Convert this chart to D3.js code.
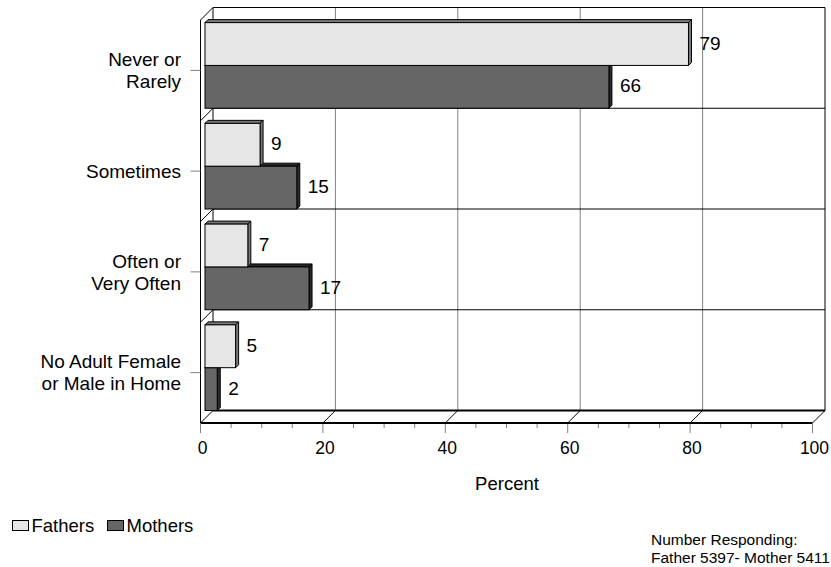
<!DOCTYPE html>
<html><head><meta charset="utf-8">
<script src="https://cdn.jsdelivr.net/npm/d3@7"></script>
<style>html,body{margin:0;padding:0;background:#fff}svg{display:block;font-family:"Liberation Sans",Arial,sans-serif}</style>
</head><body>
<svg id="c" width="831" height="567"></svg>
<script>
const categories = ["Never or\nRarely", "Sometimes", "Often or\nVery Often", "No Adult Female\nor Male in Home"];
const fathers = [79, 9, 7, 5];
const mothers = [66, 15, 17, 2];
const xTickLabels = [0, 20, 40, 60, 80, 100];
const minorTicks = d3.range(0, 101, 5);
const seriesNames = ["Fathers", "Mothers"];
const seriesFill = ["#e6e6e6", "#666666"];
const seriesSide = ["#7a7a7a", "#2a2a2a"];

const svg = d3.select("#c");
svg.append("rect").attr("width", 831).attr("height", 567).attr("fill", "#fff");

const dx = 12.5, dy = 12.5;           // depth offset of the back wall
const x = d3.scaleLinear().domain([0, 100]).range([200.5, 812.5]);
const y = d3.scaleBand().domain(categories).range([20, 423]);
const bw = y.bandwidth();
const yTopF = 20, yBotF = 423;

const g = svg.append("g");
g.selectAll(".vg").data(xTickLabels.slice(1, -1)).join("line")
  .attr("x1", d => x(d) + dx).attr("x2", d => x(d) + dx)
  .attr("y1", yTopF - dy).attr("y2", yBotF - dy)
  .attr("stroke", "#808080").attr("stroke-width", 1);
g.selectAll(".hg").data(categories.slice(1)).join("line")
  .attr("x1", x(0) + dx).attr("x2", x(100) + dx)
  .attr("y1", d => y(d) - dy).attr("y2", d => y(d) - dy)
  .attr("stroke", "#000");
g.selectAll(".ld").data(categories.slice(1)).join("line")
  .attr("x1", x(0)).attr("y1", d => y(d))
  .attr("x2", x(0) + dx).attr("y2", d => y(d) - dy)
  .attr("stroke", "#000");
g.append("path").attr("fill", "none").attr("stroke", "#000")
  .attr("d", `M${x(0)+dx},${yBotF-dy}V${yTopF-dy}H${x(100)+dx}V${yBotF-dy}`);
g.append("path").attr("fill", "none").attr("stroke", "#000")
  .attr("d", `M${x(0)},${yBotF}V${yTopF}L${x(0)+dx},${yTopF-dy}`);
g.selectAll(".fd").data(xTickLabels).join("line")
  .attr("x1", d => x(d)).attr("y1", yBotF)
  .attr("x2", d => x(d) + dx).attr("y2", yBotF - dy)
  .attr("stroke", "#000");
g.append("line").attr("x1", x(0) + dx).attr("x2", x(100) + dx).attr("y1", yBotF - dy).attr("y2", yBotF - dy)
  .attr("stroke", "#000").attr("stroke-width", 2);
g.append("line").attr("x1", x(0)).attr("x2", x(100)).attr("y1", yBotF).attr("y2", yBotF)
  .attr("stroke", "#000").attr("stroke-width", 2);
g.selectAll(".tk").data(minorTicks).join("line")
  .attr("x1", d => x(d)).attr("x2", d => x(d))
  .attr("y1", yBotF + 1).attr("y2", d => d % 20 === 0 ? yBotF + 10 : yBotF + 5)
  .attr("stroke", "#808080");
g.selectAll(".tl").data(xTickLabels).join("text")
  .attr("x", d => x(d) + 2).attr("y", 454)
  .attr("text-anchor", "middle").attr("font-size", 17.5).attr("fill", "#000")
  .text(d => d);
g.selectAll(".ct").data(categories).join("line")
  .attr("x1", x(0) - 10).attr("x2", x(0))
  .attr("y1", d => y(d) + bw / 2).attr("y2", d => y(d) + bw / 2)
  .attr("stroke", "#808080");
categories.forEach(c => {
  const lines = c.split("\n");
  const cy = y(c) + bw / 2;
  lines.forEach((t, i) => {
    g.append("text").attr("x", 181).attr("y", cy + (i - (lines.length - 1) / 2) * 22)
      .attr("dy", "0.35em").attr("text-anchor", "end").attr("font-size", 19).attr("fill", "#000")
      .text(t);
  });
});

const bd = 4.5, ex = 3;
const xb = v => x(v) + bd;
const barRows = [];
categories.forEach((c, i) => {
  const top = y(c) - dy + bw * 0.15;
  const h = bw * 0.425;
  barRows.push({s: 1, v: mothers[i], y0: top + h, y1: top + 2 * h});
  barRows.push({s: 0, v: fathers[i], y0: top, y1: top + h});
});
barRows.forEach(b => {
  const x0 = xb(0), x1 = xb(b.v);
  const bg = g.append("g");
  bg.append("path").attr("fill", seriesSide[b.s]).attr("stroke", "#000").attr("stroke-width", 1)
    .attr("d", `M${x0},${b.y0}L${x0+ex},${b.y0-ex}H${x1+ex}L${x1},${b.y0}Z`);
  bg.append("path").attr("fill", seriesSide[b.s]).attr("stroke", "#000").attr("stroke-width", 1)
    .attr("d", `M${x1},${b.y0}L${x1+ex},${b.y0-ex}V${b.y1-ex}L${x1},${b.y1}Z`);
  bg.append("rect").attr("x", x0).attr("y", b.y0).attr("width", x1 - x0).attr("height", b.y1 - b.y0)
    .attr("fill", seriesFill[b.s]).attr("stroke", "#000").attr("stroke-width", 1);
  g.append("text").attr("x", x1 + 11).attr("y", (b.y0 + b.y1) / 2 - 1).attr("dy", "0.35em")
    .attr("font-size", 19).attr("fill", "#000").text(b.v);
});

svg.append("text").attr("x", 507).attr("y", 490).attr("text-anchor", "middle")
  .attr("font-size", 18.5).attr("fill", "#000").text("Percent");

const lx = [12.5, 107.5];
seriesNames.forEach((n, i) => {
  svg.append("rect").attr("x", lx[i]).attr("y", 520.5).attr("width", 16).attr("height", 10)
    .attr("fill", seriesFill[i]).attr("stroke", "#000");
  svg.append("text").attr("x", lx[i] + 19).attr("y", 531.5).attr("font-size", 18.5).attr("fill", "#000").text(n);
});

svg.append("text").attr("x", 651).attr("y", 545).attr("font-size", 15.5).attr("fill", "#000").text("Number Responding:");
svg.append("text").attr("x", 651).attr("y", 563).attr("font-size", 15.5).attr("fill", "#000").text("Father 5397- Mother 5411");
</script>
</body></html>
